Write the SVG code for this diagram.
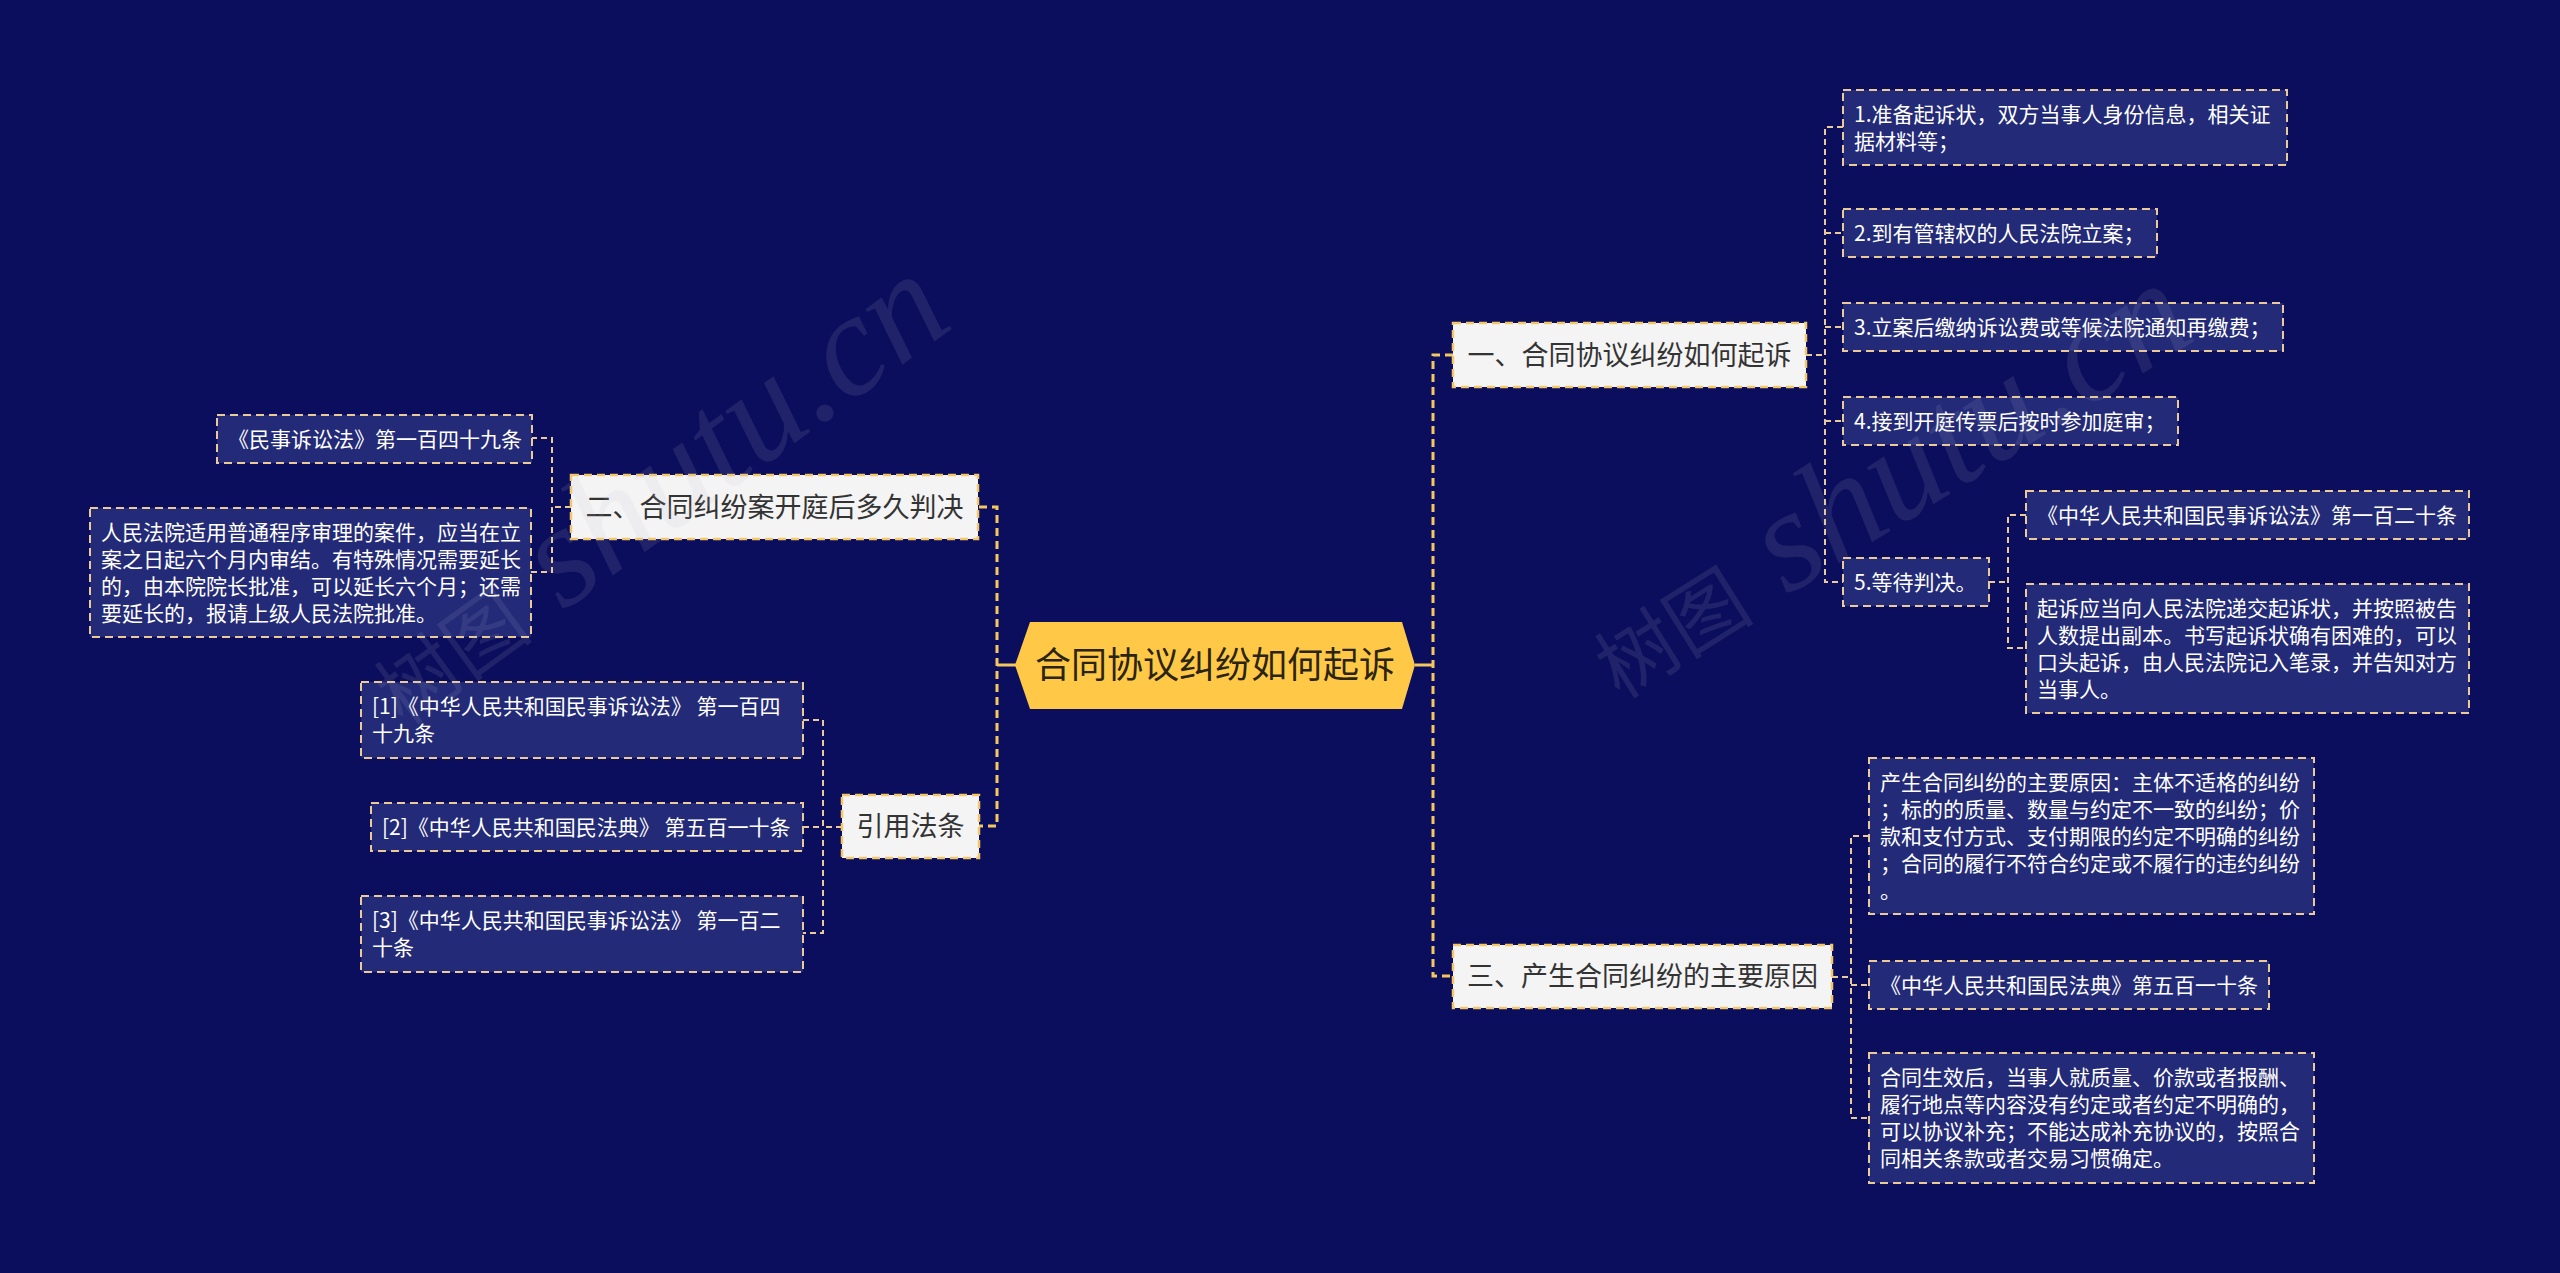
<svg xmlns="http://www.w3.org/2000/svg" width="2560" height="1273" viewBox="0 0 2560 1273">
<style>
.bg{fill:#0b0e5c}
.leaf rect{fill:#232a78;stroke:#ecca98;stroke-width:2;stroke-dasharray:8 5}
.leaf text{font-family:"Noto Sans CJK SC","Noto Sans",sans-serif;font-size:21px;fill:#ffffff}
.branch rect{fill:#f4f4f4;stroke:#f3c66a;stroke-width:2.5;stroke-dasharray:8 5}
.branch text{font-family:"Noto Sans CJK SC","Noto Sans",sans-serif;font-size:27px;fill:#333333;text-anchor:middle}
.root text{font-family:"Noto Sans CJK SC","Noto Sans",sans-serif;font-size:36px;fill:#2b2410;text-anchor:middle}
.main{fill:none;stroke:#f5c75c;stroke-width:3;stroke-dasharray:8 5}
.solid{fill:none;stroke:#f5c75c;stroke-width:3}
.sub{fill:none;stroke:#ecca98;stroke-width:2;stroke-dasharray:6 4}
.wm{font-family:"Liberation Serif","DejaVu Serif","Noto Sans CJK SC",serif;font-style:italic;fill:#c0c0cc;fill-opacity:0.12}
.wm .cjk{font-family:"Noto Sans CJK SC",sans-serif;font-style:normal;font-size:80px}
</style>
<rect class="bg" x="0" y="0" width="2560" height="1273"/>
<g id="connectors">
<path class="solid" d="M1415 665 H1433"/>
<path class="main" d="M1453 355 H1433 V976 H1453"/>
<path class="solid" d="M1016 665 H997"/>
<path class="main" d="M979 507 H997 V826 H979"/>
<path class="sub" d="M1806 355 H1825"/>
<path class="sub" d="M1843 127 H1825 V582 H1843"/>
<path class="sub" d="M1825 233 H1843 M1825 327 H1843 M1825 421 H1843"/>
<path class="sub" d="M1989 582 H2008"/>
<path class="sub" d="M2026 515 H2008 V648 H2026"/>
<path class="sub" d="M1832 977 H1851"/>
<path class="sub" d="M1869 836 H1851 V1118 H1869"/>
<path class="sub" d="M1851 985 H1869"/>
<path class="sub" d="M571 507 H552"/>
<path class="sub" d="M531 438 H552 V572 H531"/>
<path class="sub" d="M842 827 H823"/>
<path class="sub" d="M803 720 H823 V933 H803"/>
<path class="sub" d="M803 827 H823"/>
</g>
<g id="root" class="root">
<polygon points="1015,665 1030,622 1402,622 1415,665 1402,709 1030,709" fill="#ffc947"/>
<text x="1215" y="678">合同协议纠纷如何起诉</text>
</g>
<g id="branch1" class="branch">
<rect x="1453" y="323" width="353" height="64"/>
<text x="1629.5" y="365">一、合同协议纠纷如何起诉</text>
</g>
<g id="branch2" class="branch">
<rect x="571" y="475" width="407" height="64"/>
<text x="774.5" y="517">二、合同纠纷案开庭后多久判决</text>
</g>
<g id="branch3" class="branch">
<rect x="1453" y="945" width="379" height="63"/>
<text x="1642.5" y="986">三、产生合同纠纷的主要原因</text>
</g>
<g id="branch4" class="branch">
<rect x="842" y="795" width="137" height="63"/>
<text x="910.5" y="836">引用法条</text>
</g>
<g id="c1" class="leaf">
<rect x="1843" y="90" width="444" height="75"/>
<text x="1854" y="122">1.准备起诉状，双方当事人身份信息，相关证</text>
<text x="1854" y="149">据材料等；</text>
</g>
<g id="c2" class="leaf">
<rect x="1843" y="209" width="314" height="48"/>
<text x="1854" y="241">2.到有管辖权的人民法院立案；</text>
</g>
<g id="c3" class="leaf">
<rect x="1843" y="303" width="440" height="48"/>
<text x="1854" y="335">3.立案后缴纳诉讼费或等候法院通知再缴费；</text>
</g>
<g id="c4" class="leaf">
<rect x="1843" y="397" width="335" height="48"/>
<text x="1854" y="429">4.接到开庭传票后按时参加庭审；</text>
</g>
<g id="c5" class="leaf">
<rect x="1843" y="558" width="146" height="48"/>
<text x="1854" y="590">5.等待判决。</text>
</g>
<g id="c5a" class="leaf">
<rect x="2026" y="491" width="443" height="48"/>
<text x="2037" y="523">《中华人民共和国民事诉讼法》第一百二十条</text>
</g>
<g id="c5b" class="leaf">
<rect x="2026" y="584" width="443" height="129"/>
<text x="2037" y="616">起诉应当向人民法院递交起诉状，并按照被告</text>
<text x="2037" y="643">人数提出副本。书写起诉状确有困难的，可以</text>
<text x="2037" y="670">口头起诉，由人民法院记入笔录，并告知对方</text>
<text x="2037" y="697">当事人。</text>
</g>
<g id="d1" class="leaf">
<rect x="1869" y="758" width="445" height="156"/>
<text x="1880" y="790">产生合同纠纷的主要原因：主体不适格的纠纷</text>
<text x="1880" y="817">；标的的质量、数量与约定不一致的纠纷；价</text>
<text x="1880" y="844">款和支付方式、支付期限的约定不明确的纠纷</text>
<text x="1880" y="871">；合同的履行不符合约定或不履行的违约纠纷</text>
<text x="1880" y="898">。</text>
</g>
<g id="d2" class="leaf">
<rect x="1869" y="961" width="400" height="48"/>
<text x="1880" y="993">《中华人民共和国民法典》第五百一十条</text>
</g>
<g id="d3" class="leaf">
<rect x="1869" y="1053" width="445" height="130"/>
<text x="1880" y="1085">合同生效后，当事人就质量、价款或者报酬、</text>
<text x="1880" y="1112">履行地点等内容没有约定或者约定不明确的，</text>
<text x="1880" y="1139">可以协议补充；不能达成补充协议的，按照合</text>
<text x="1880" y="1166">同相关条款或者交易习惯确定。</text>
</g>
<g id="l1" class="leaf">
<rect x="217" y="415" width="315" height="48"/>
<text x="228" y="447">《民事诉讼法》第一百四十九条</text>
</g>
<g id="l2" class="leaf">
<rect x="90" y="508" width="441" height="129"/>
<text x="101" y="540">人民法院适用普通程序审理的案件，应当在立</text>
<text x="101" y="567">案之日起六个月内审结。有特殊情况需要延长</text>
<text x="101" y="594">的，由本院院长批准，可以延长六个月；还需</text>
<text x="101" y="621">要延长的，报请上级人民法院批准。</text>
</g>
<g id="r1" class="leaf">
<rect x="361" y="682" width="442" height="76"/>
<text x="372" y="714">[1]《中华人民共和国民事诉讼法》 第一百四</text>
<text x="372" y="741">十九条</text>
</g>
<g id="r2" class="leaf">
<rect x="371" y="803" width="432" height="48"/>
<text x="382" y="835">[2]《中华人民共和国民法典》 第五百一十条</text>
</g>
<g id="r3" class="leaf">
<rect x="361" y="896" width="442" height="76"/>
<text x="372" y="928">[3]《中华人民共和国民事诉讼法》 第一百二</text>
<text x="372" y="955">十条</text>
</g>
<g id="watermarks">
<text class="wm" font-size="145" transform="translate(404,727) rotate(-36)"><tspan class="cjk">树图</tspan> shutu.cn</text>
<text class="wm" font-size="145" transform="translate(1620,700) rotate(-32)"><tspan class="cjk">树图</tspan> shutu.cn</text>
</g>
</svg>
